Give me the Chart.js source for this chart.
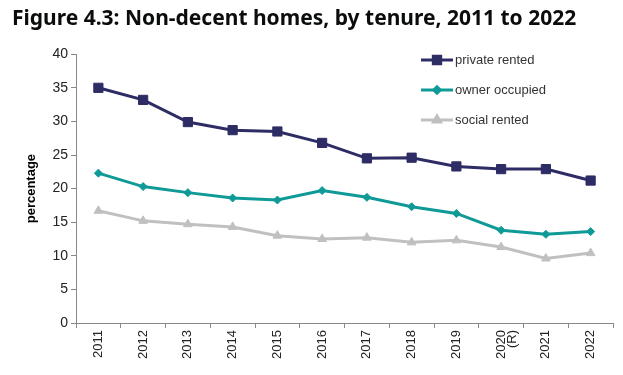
<!DOCTYPE html>
<html><head><meta charset="utf-8">
<script src="https://cdn.jsdelivr.net/npm/chart.js@4/dist/chart.umd.min.js"></script>
<style>html,body{margin:0;padding:0;background:#fff;}#wrap{width:623px;height:375px;position:relative;}</style>
</head><body><div id="wrap"><canvas id="c" width="623" height="375"></canvas></div>
<script>
const categories = ['2011','2012','2013','2014','2015','2016','2017','2018','2019',['2020','(R)'],'2021','2022'];
const privateRented = [35.0,33.2,29.9,28.7,28.5,26.8,24.5,24.6,23.3,22.9,22.9,21.2];
const ownerOccupied = [22.3,20.3,19.4,18.6,18.3,19.7,18.7,17.3,16.3,13.8,13.2,13.6];
const socialRented = [16.7,15.2,14.7,14.3,13.0,12.5,12.7,12.0,12.3,11.3,9.6,10.4];
const yTicks = [0,5,10,15,20,25,30,35,40];

const legendPlugin = {
  id:'customLegend',
  afterDraw(chart){
    const ctx = chart.ctx;
    const x0 = 421, x1 = 453, ys=[60,90,120];
    chart.data.datasets.forEach((ds,i)=>{
      const y = ys[i];
      ctx.save();
      ctx.strokeStyle = ds.borderColor; ctx.lineWidth = 3;
      ctx.beginPath(); ctx.moveTo(x0,y); ctx.lineTo(x1,y); ctx.stroke();
      Chart.helpers.drawPoint(ctx,{pointStyle:ds.pointStyle,radius:ds.pointRadius*0.8,borderWidth:1},(x0+x1)/2,y);
      ctx.fillStyle = ds.borderColor;
      ctx.fill();
      ctx.fillStyle = '#333';
      ctx.font = '13px "Liberation Sans", Arial, sans-serif';
      ctx.textBaseline = 'middle';
      ctx.fillText(ds.label, x1+2, y);
      ctx.restore();
    });
  }
};

new Chart(document.getElementById('c'),{
  type:'line',
  data:{labels:categories,datasets:[
    {label:'private rented',data:privateRented,borderColor:'#2e2c64',backgroundColor:'#2e2c64',pointStyle:'rect',pointRadius:6.5,borderWidth:3,pointBorderWidth:1},
    {label:'owner occupied',data:ownerOccupied,borderColor:'#0f9a97',backgroundColor:'#0f9a97',pointStyle:'rectRot',pointRadius:4,borderWidth:3,pointBorderWidth:1},
    {label:'social rented',data:socialRented,borderColor:'#c0c0c0',backgroundColor:'#c0c0c0',pointStyle:'triangle',pointRadius:5,borderWidth:3,pointBorderWidth:1}
  ]},
  options:{
    responsive:false,animation:false,
    layout:{padding:{left:12,right:10,top:0,bottom:0}},
    plugins:{
      legend:{display:false},tooltip:{enabled:false},
      title:{display:true,text:'Figure 4.3: Non-decent homes, by tenure, 2011 to 2022',align:'start',
        color:'#0b0c0c',font:{family:'"Noto Sans", sans-serif',size:21,weight:'bold'},padding:{top:6,bottom:23}}
    },
    scales:{
      x:{offset:true,
        grid:{offset:true,drawOnChartArea:false,tickLength:5,color:'#888'},
        border:{color:'#888',width:1},
        ticks:{color:'#222',font:{family:'"Liberation Sans", Arial, sans-serif',size:13,lineHeight:0.9},maxRotation:90,minRotation:90,padding:2},
        afterFit(s){s.height=52;}
      },
      y:{min:0,max:40,
        afterBuildTicks(s){s.ticks=yTicks.map(v=>({value:v}));},
        grid:{drawOnChartArea:false,tickLength:5,color:'#888'},
        border:{color:'#888',width:1},
        ticks:{color:'#222',font:{family:'"Liberation Sans", Arial, sans-serif',size:14},padding:3},
        title:{display:true,text:'percentage',color:'#000',font:{family:'"Liberation Sans", Arial, sans-serif',size:13,weight:'bold'},padding:{top:12,bottom:0}},
        afterFit(s){s.width=64;}
      }
    }
  },
  plugins:[legendPlugin]
});
</script></body></html>
